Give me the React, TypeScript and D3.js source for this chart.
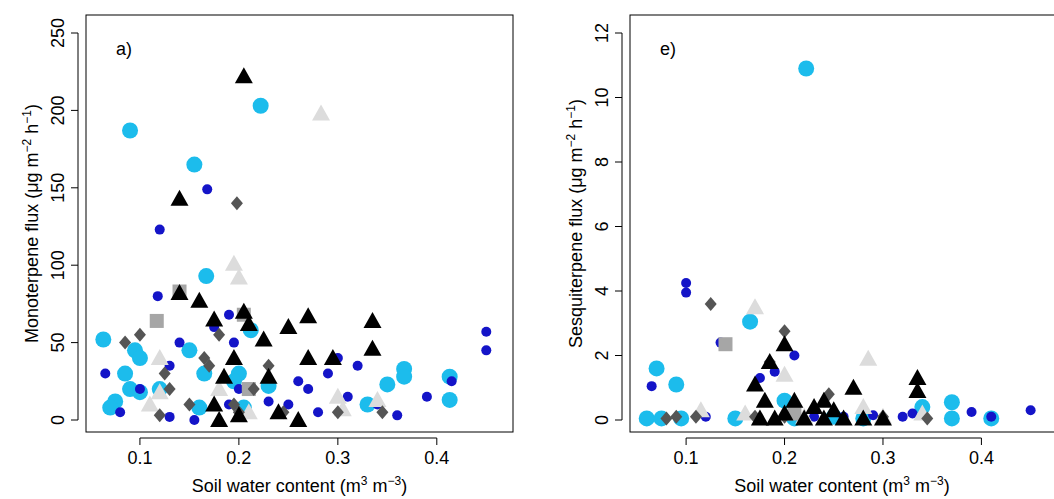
import React from "react";
import * as d3 from "d3";

type P = [number, number];

// Panel a) monoterpene flux
const aLightBlue: P[] = [[0.063,52],[0.09,187],[0.095,45],[0.1,40],[0.075,12],[0.07,8],[0.09,20],[0.1,18],[0.085,30],[0.155,165],[0.222,203],[0.167,93],[0.15,45],[0.2,30],[0.195,25],[0.165,30],[0.212,58],[0.23,22],[0.12,20],[0.35,23],[0.367,33],[0.367,28],[0.413,28],[0.413,13],[0.33,10],[0.16,8],[0.205,8]];
const aDarkBlue: P[] = [[0.12,123],[0.168,149],[0.118,80],[0.065,30],[0.08,5],[0.14,50],[0.175,60],[0.19,68],[0.195,50],[0.13,35],[0.19,10],[0.25,10],[0.29,30],[0.3,40],[0.32,35],[0.31,15],[0.36,3],[0.39,15],[0.415,25],[0.45,57],[0.45,45],[0.27,20],[0.28,5],[0.23,12],[0.13,2],[0.1,20],[0.2,20],[0.26,25],[0.155,0],[0.34,10]];
const aBlackTri: P[] = [[0.205,222],[0.14,143],[0.14,82],[0.16,77],[0.175,65],[0.185,28],[0.195,40],[0.205,70],[0.21,62],[0.225,52],[0.25,60],[0.27,67],[0.27,40],[0.295,40],[0.335,64],[0.335,46],[0.18,0],[0.2,3],[0.23,28],[0.24,5],[0.26,0],[0.175,10]];
const aDiamond: P[] = [[0.085,50],[0.198,140],[0.18,55],[0.165,40],[0.125,30],[0.13,20],[0.15,10],[0.17,35],[0.2,5],[0.215,20],[0.245,5],[0.23,35],[0.12,3],[0.345,5],[0.195,10],[0.3,5],[0.1,55]];
const aGreyTri: P[] = [[0.283,198],[0.195,101],[0.2,92],[0.12,40],[0.11,10],[0.12,18],[0.18,20],[0.3,15],[0.34,13],[0.305,7],[0.21,5]];
const aSquare: P[] = [[0.117,64],[0.14,83],[0.205,68],[0.21,20]];

// Panel e) sesquiterpene flux
const eLightBlue: P[] = [[0.222,10.9],[0.07,1.6],[0.09,1.1],[0.165,3.05],[0.06,0.05],[0.075,0.05],[0.095,0.05],[0.15,0.05],[0.2,0.6],[0.21,0.05],[0.34,0.4],[0.37,0.55],[0.37,0.05],[0.41,0.05],[0.28,0.05],[0.25,0.1]];
const eDarkBlue: P[] = [[0.1,4.25],[0.1,3.95],[0.065,1.05],[0.135,2.4],[0.21,2.0],[0.175,1.3],[0.19,1.5],[0.39,0.25],[0.45,0.3],[0.41,0.1],[0.33,0.2],[0.29,0.15],[0.12,0.1],[0.23,0.1],[0.26,0.1],[0.32,0.1]];
const eBlackTri: P[] = [[0.2,2.35],[0.185,1.8],[0.17,1.1],[0.18,0.6],[0.23,0.4],[0.24,0.6],[0.27,1.0],[0.335,1.3],[0.335,0.9],[0.25,0.3],[0.21,0.6],[0.22,0.05],[0.24,0.05],[0.26,0.05],[0.28,0.05],[0.3,0.05],[0.175,0.05],[0.19,0.05],[0.2,0.2]];
const eDiamond: P[] = [[0.125,3.6],[0.2,2.75],[0.185,1.8],[0.245,0.8],[0.11,0.1],[0.2,0.1],[0.345,0.05],[0.3,0.1],[0.17,0.1],[0.09,0.1],[0.08,0.05]];
const eGreyTri: P[] = [[0.17,3.5],[0.285,1.9],[0.2,1.4],[0.115,0.3],[0.28,0.4],[0.16,0.2],[0.3,0.1],[0.34,0.2],[0.22,0.1]];
const eSquare: P[] = [[0.14,2.35],[0.21,0.2]];

const xTicks = [0.1, 0.2, 0.3, 0.4];
const aYTicks = [0, 50, 100, 150, 200, 250];
const eYTicks = [0, 2, 4, 6, 8, 10, 12];

const FONT = "Liberation Sans, Arial, sans-serif";

function Marks({ data, kind, x, y }: { data: P[]; kind: string; x: any; y: any }) {
  return (
    <g>
      {data.map(([a, b], i) => {
        const cx = x(a), cy = y(b);
        if (kind === "lb") return <circle key={i} cx={cx} cy={cy} r={8} fill="#1cbcec" />;
        if (kind === "db") return <circle key={i} cx={cx} cy={cy} r={5} fill="#1414c8" />;
        if (kind === "sq") return <rect key={i} x={cx - 7} y={cy - 7} width={14} height={14} fill="#a6a6a6" />;
        if (kind === "dm") return <path key={i} d={`M${cx},${cy - 7}L${cx + 6},${cy}L${cx},${cy + 7}L${cx - 6},${cy}Z`} fill="#555" />;
        const col = kind === "bt" ? "#000" : "#dcdcdc";
        return <path key={i} d={`M${cx},${cy - 9}L${cx + 9},${cy + 7}L${cx - 9},${cy + 7}Z`} fill={col} />;
      })}
    </g>
  );
}

function Panel(props: {
  left: number; right: number; xDom: [number, number]; yDom: [number, number]; yTicks: number[];
  label: string; ylab: string; sets: [P[], string][];
}) {
  const top = 15, bottom = 432;
  const x = d3.scaleLinear().domain(props.xDom).range([props.left, props.right]);
  const y = d3.scaleLinear().domain(props.yDom).range([bottom - 12, top + 18]);
  const t0 = y(props.yTicks[0]), t1 = y(props.yTicks[props.yTicks.length - 1]);
  return (
    <g fontFamily={FONT} fontSize={18}>
      <rect x={props.left} y={top} width={props.right - props.left} height={bottom - top} fill="none" stroke="#000" />
      <line x1={props.left - 8} x2={props.left - 8} y1={t0} y2={t1} stroke="#000" />
      {props.yTicks.map(t => (
        <g key={t}>
          <line x1={props.left - 15} x2={props.left - 8} y1={y(t)} y2={y(t)} stroke="#000" />
          <text transform={`translate(${props.left - 22},${y(t)}) rotate(-90)`} textAnchor="middle">{t}</text>
        </g>
      ))}
      <line x1={x(0.1)} x2={x(0.4)} y1={bottom + 6} y2={bottom + 6} stroke="#000" />
      {xTicks.map(t => (
        <g key={t}>
          <line x1={x(t)} x2={x(t)} y1={bottom + 6} y2={bottom + 13} stroke="#000" />
          <text x={x(t)} y={bottom + 32} textAnchor="middle">{t}</text>
        </g>
      ))}
      <text x={(props.left + Math.min(props.right, 1054)) / 2} y={bottom + 60} textAnchor="middle">
        Soil water content (m<tspan dy={-7} fontSize={12}>3</tspan><tspan dy={7}> m</tspan><tspan dy={-7} fontSize={12}>−3</tspan><tspan dy={7}>)</tspan>
      </text>
      <text transform={`translate(${props.left - 48},${(top + bottom) / 2}) rotate(-90)`} textAnchor="middle">
        {props.ylab} (μg m<tspan dy={-7} fontSize={12}>−2</tspan><tspan dy={7}> h</tspan><tspan dy={-7} fontSize={12}>−1</tspan><tspan dy={7}>)</tspan>
      </text>
      <text x={props.left + 30} y={55}>{props.label}</text>
      {props.sets.map(([d, k], i) => <Marks key={i} data={d} kind={k} x={x} y={y} />)}
    </g>
  );
}

export default function App() {
  return (
    <svg width={1054} height={499} style={{ position: "absolute", left: 0, top: 0, background: "#fff" }}>
      <Panel left={86} right={513} xDom={[0.0455, 0.477]} yDom={[0, 250]} yTicks={aYTicks} label="a)" ylab="Monoterpene flux"
        sets={[[aLightBlue, "lb"], [aDarkBlue, "db"], [aGreyTri, "gt"], [aSquare, "sq"], [aDiamond, "dm"], [aBlackTri, "bt"]]} />
      <Panel left={630} right={1070} xDom={[0.043, 0.49]} yDom={[0, 12]} yTicks={eYTicks} label="e)" ylab="Sesquiterpene flux"
        sets={[[eLightBlue, "lb"], [eDarkBlue, "db"], [eGreyTri, "gt"], [eSquare, "sq"], [eDiamond, "dm"], [eBlackTri, "bt"]]} />
    </svg>
  );
}
